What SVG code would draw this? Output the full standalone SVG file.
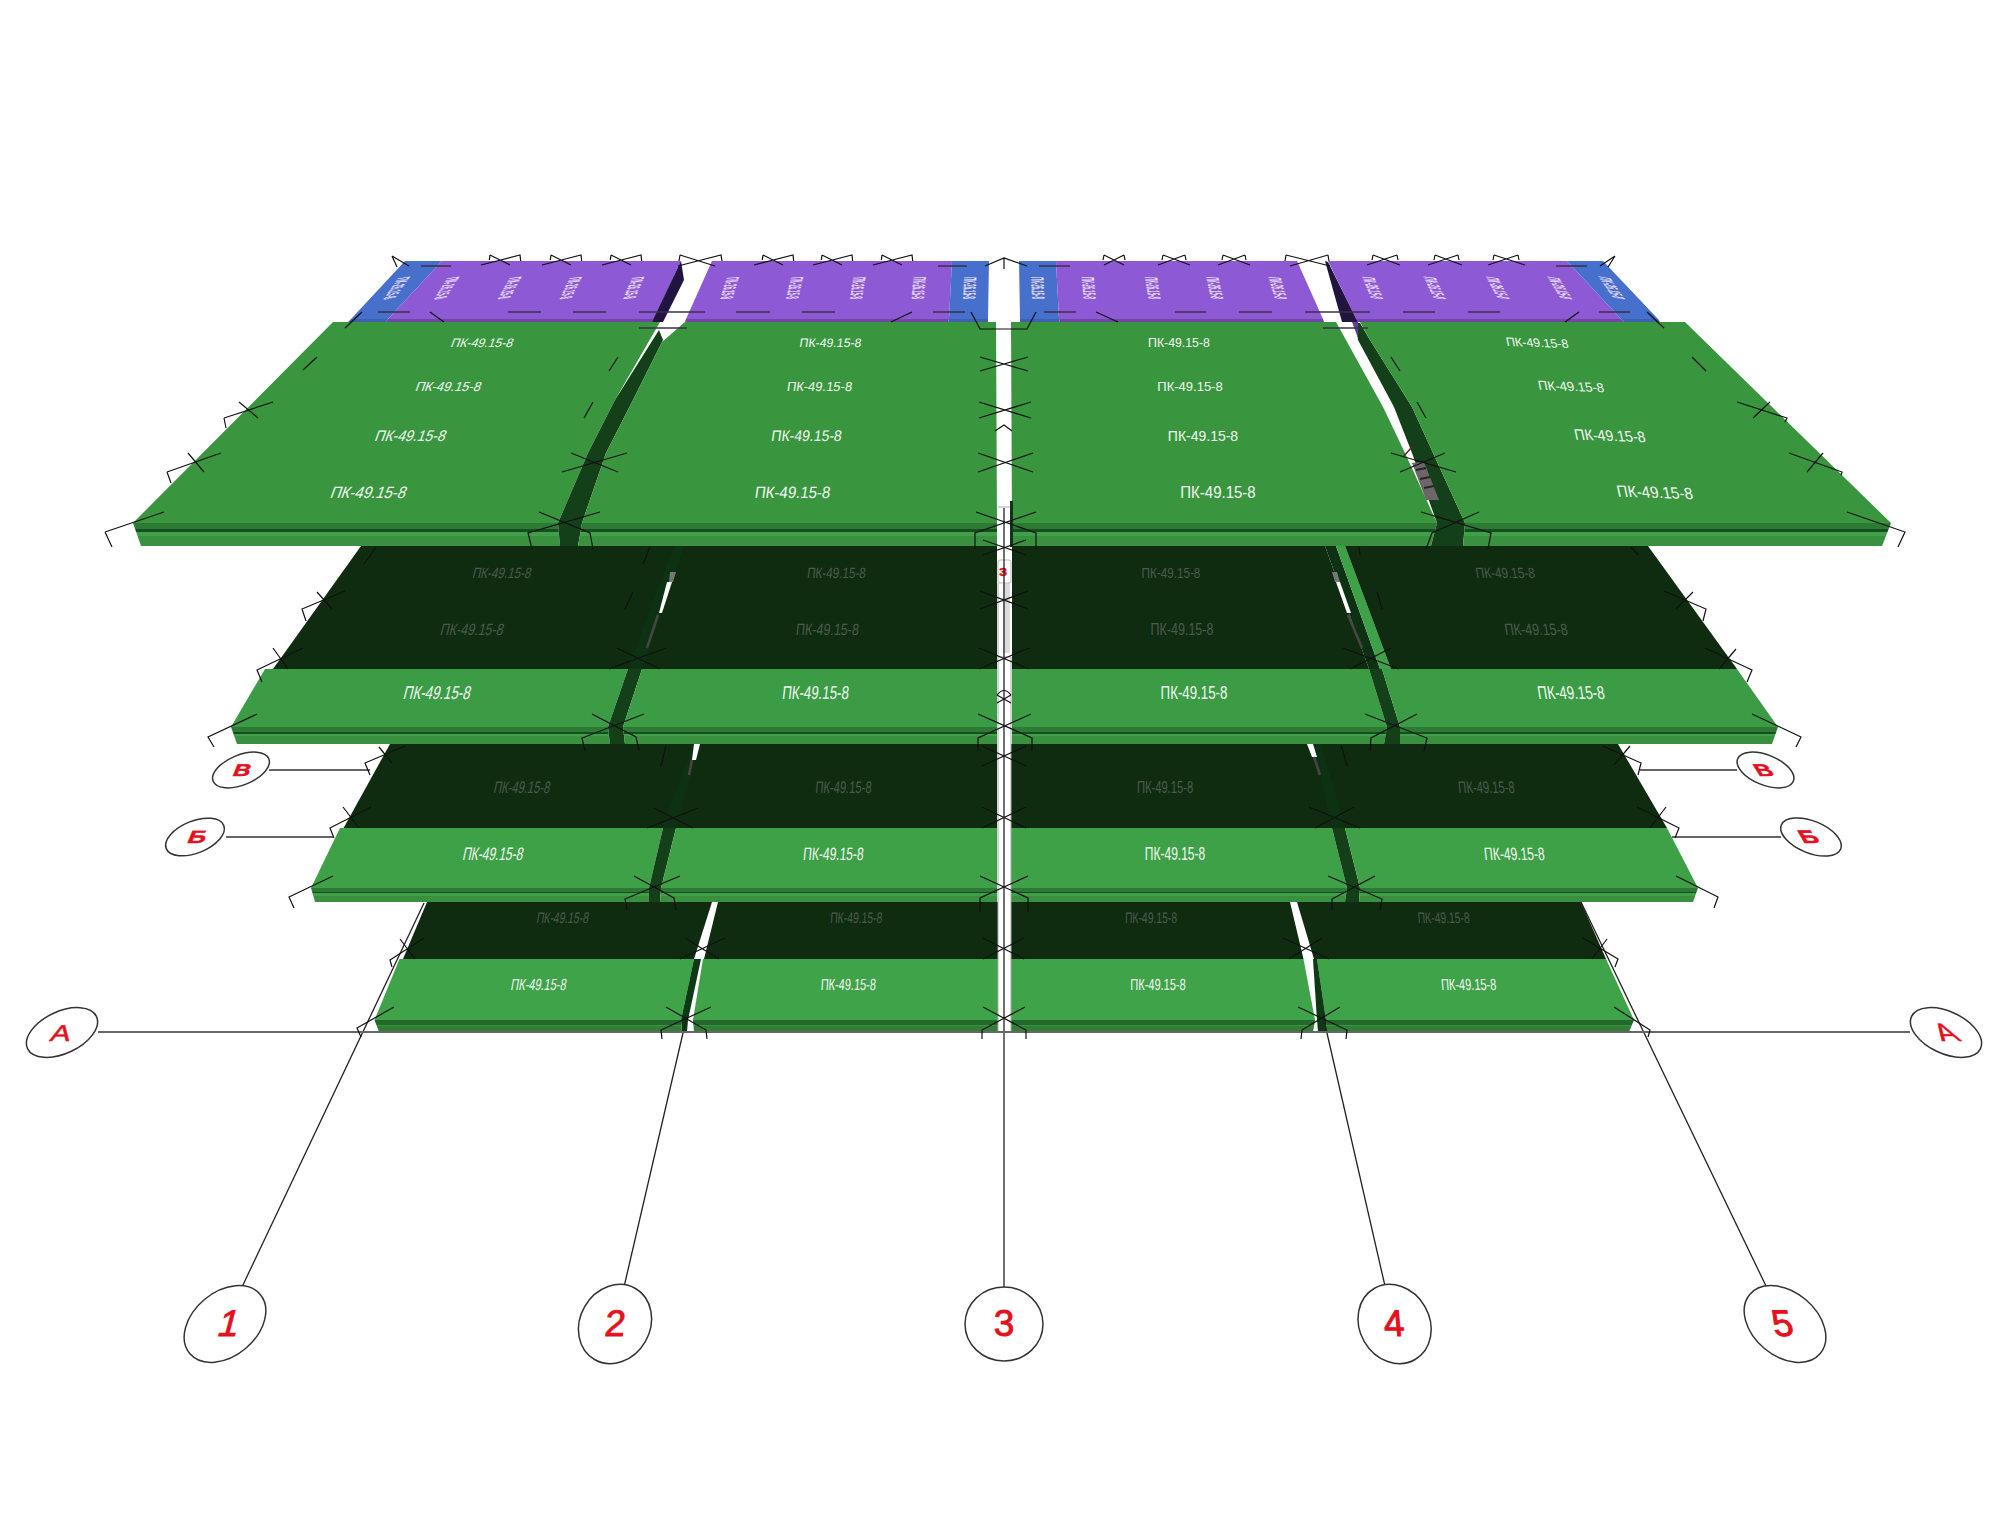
<svg xmlns="http://www.w3.org/2000/svg" width="2000" height="1531" viewBox="0 0 2000 1531">
<style>
text{font-family:"Liberation Sans",Arial,sans-serif;text-anchor:middle}
.w{fill:#f2f7f2}
.d{fill:#4b5a4d}
.v{fill:#e8dff8;font-size:10px;font-weight:bold}
.r{fill:#e60f1c;stroke:#e60f1c;stroke-width:.9}
.rs{fill:#e60f1c;stroke:#e60f1c;stroke-width:.5}
.pu{fill:#8e59d4}.pb{fill:#6f47a6}.bl{fill:#4670cc}.bb{fill:#3f60ad}
.t1{fill:#39963f}.t2{fill:#3b9c45}.t3{fill:#3ea148}.t4{fill:#3fa34a}
.dk{fill:#0f2c11}.st{fill:#133f19}.ds{fill:#0d3213}
.f{fill:url(#front)}.f4{fill:url(#front4)}
.tick{fill:none;stroke:#111;stroke-width:1.2}
.grid{fill:none;stroke:#222;stroke-width:1.3}
.gh{fill:none;stroke:#666;stroke-width:2}
.b{fill:#fff;stroke:#333;stroke-width:1.5}
.e{fill:none;stroke:#aaa;stroke-width:1}
</style>
<defs>
<linearGradient id="front" x1="0" y1="0" x2="0" y2="1">
<stop offset="0" stop-color="#2c7a33"/><stop offset=".27" stop-color="#2c7a33"/><stop offset=".27" stop-color="#14501e"/><stop offset=".39" stop-color="#14501e"/><stop offset=".39" stop-color="#419e49"/><stop offset=".55" stop-color="#419e49"/><stop offset=".55" stop-color="#39903f"/><stop offset="1" stop-color="#39903f"/>
</linearGradient>
<linearGradient id="front4" x1="0" y1="0" x2="0" y2="1">
<stop offset="0" stop-color="#24682c"/><stop offset=".4" stop-color="#24682c"/><stop offset=".4" stop-color="#3a9442"/><stop offset=".52" stop-color="#3a9442"/><stop offset=".52" stop-color="#2f7f36"/><stop offset="1" stop-color="#2f7f36"/>
</linearGradient>
</defs>
<rect width="2000" height="1531" fill="#fff"/>

<g id="tier-4">
<polygon class="dk" points="427,902 712,902 694,959 403,959"/>
<polygon class="dk" points="718,902 998,902 998,959 704,959"/>
<polygon class="dk" points="1011,902 1290,902 1303.5,959 1011,959"/>
<polygon class="dk" points="1297,902 1581,902 1606,959 1314,959"/>
<polygon class="t4" points="399.5,959 694,959 681,1020 374.5,1020"/>
<polygon class="t4" points="703,959 998,959 998,1020 693,1020"/>
<polygon class="t4" points="1011,959 1303.5,959 1315,1020 1011,1020"/>
<polygon class="t4" points="1317,959 1606,959 1634,1020 1326,1020"/>
<polygon fill="#0d3a14" points="694,959 701,959 688,1020 681,1020"/>
<polygon fill="#0d3a14" points="1313,959 1317,959 1326,1020 1317,1020"/>
<polygon fill="#0d3a14" points="681,1020 688,1020 687,1032 682,1032"/>
<polygon fill="#0d3a14" points="1317,1020 1326,1020 1326,1032 1318,1032"/>
<polygon class="f4" points="374.5,1020 681,1020 682,1032 379,1032"/>
<polygon class="f4" points="693,1020 998,1020 998,1032 694,1032"/>
<polygon class="f4" points="1011,1020 1315,1020 1313,1032 1011,1032"/>
<polygon class="f4" points="1326,1020 1634,1020 1629,1032 1326,1032"/>
<g class="d">
<text font-size="10.4" transform="translate(562,922.5) skewX(-10) scale(1,1.47)">ПК-49.15-8</text>
<text font-size="10.4" transform="translate(856,922.5) skewX(-4) scale(1,1.47)">ПК-49.15-8</text>
<text font-size="10.4" transform="translate(1151,922.5) skewX(-1) scale(1,1.47)">ПК-49.15-8</text>
<text font-size="10.4" transform="translate(1444,922.5) skewX(4) scale(1,1.47)">ПК-49.15-8</text>
</g>
<g class="w">
<text font-size="11" transform="translate(538,990) skewX(-10) scale(1,1.47)">ПК-49.15-8</text>
<text font-size="11" transform="translate(848,990) skewX(-4) scale(1,1.47)">ПК-49.15-8</text>
<text font-size="11" transform="translate(1158,990) skewX(-1) scale(1,1.47)">ПК-49.15-8</text>
<text font-size="11" transform="translate(1469,990) skewX(4) scale(1,1.47)">ПК-49.15-8</text>
</g>
</g>

<g id="tier-3">
<polygon class="dk" points="390,744 997,744 997,828 343.6,828"/>
<polygon class="dk" points="1011,744 1618,744 1667,828 1011,828"/>
<polygon class="ds" points="693,744 700,744 676,828 663,828"/>
<polygon class="ds" points="1313,744 1321,744 1345,828 1332,828"/>
<polygon fill="#fff" points="694,744 700,744 696,760 692,760"/>
<polygon fill="#fff" points="1307,744 1313,744 1317,757 1312,757"/>
<path d="M692,760 L689,775M1314,757 L1320,775" stroke="#4a4444" stroke-width="2.5" fill="none"/>
<polygon class="t3" points="340,828 663,828 649,888 311,888"/>
<polygon class="st" points="663,828 676,828 661,888 649,888"/>
<polygon class="t3" points="676,828 997,828 997,888 661,888"/>
<polygon class="t3" points="1011,828 1332,828 1347,888 1011,888"/>
<polygon class="st" points="1332,828 1345,828 1360,888 1347,888"/>
<polygon class="t3" points="1345,828 1667,828 1698,888 1360,888"/>
<polygon class="f" points="311,888 649,888 649,902 315,902"/>
<polygon class="st" points="649,888 661,888 660,902 649,902"/>
<polygon class="f" points="661,888 997,888 997,902 660,902"/>
<polygon class="f" points="1011,888 1347,888 1345,902 1011,902"/>
<polygon class="st" points="1347,888 1360,888 1359,902 1345,902"/>
<polygon class="f" points="1360,888 1698,888 1693,902 1359,902"/>
<g class="d">
<text font-size="11.2" transform="translate(521,793) skewX(-12) scale(1,1.5)">ПК-49.15-8</text>
<text font-size="11.2" transform="translate(843,793) skewX(-5) scale(1,1.5)">ПК-49.15-8</text>
<text font-size="11.2" transform="translate(1165,793) skewX(0) scale(1,1.5)">ПК-49.15-8</text>
<text font-size="11.2" transform="translate(1487,793) skewX(6) scale(1,1.5)">ПК-49.15-8</text>
</g>
<g class="w">
<text font-size="12" transform="translate(492,859.5) skewX(-12) scale(1,1.5)">ПК-49.15-8</text>
<text font-size="12" transform="translate(833,859.5) skewX(-5) scale(1,1.5)">ПК-49.15-8</text>
<text font-size="12" transform="translate(1175,859.5) skewX(0) scale(1,1.5)">ПК-49.15-8</text>
<text font-size="12" transform="translate(1515,859.5) skewX(6) scale(1,1.5)">ПК-49.15-8</text>
</g>
</g>

<g id="tier-2">
<polygon class="dk" points="361,546 997,546 997,669 273,669"/>
<polygon class="dk" points="1012,546 1325,546 1369,669 1012,669"/>
<polygon class="ds" points="674,546 684,546 642,669 628,669"/>
<polygon class="ds" points="1325,546 1336,546 1380,669 1369,669"/>
<polygon class="t3" points="1336,546 1345,546 1391,669 1380,669"/>
<polygon class="dk" points="1345,546 1648,546 1737,669 1391,669"/>
<polygon fill="#fff" points="667,582 672,582 662,613 659,613"/>
<polygon fill="#fff" points="1336,582 1340,582 1351,613 1347,613"/>
<polygon fill="#777" points="670,572 676,572 673,582 669,582"/>
<polygon fill="#777" points="1332,572 1337,572 1340,582 1335,582"/>
<path d="M658,615 L647,648M1348,615 L1362,648" stroke="#4a4444" stroke-width="2.5" fill="none"/>
<polygon class="t2" points="265,669 628,669 608,727 231,727"/>
<polygon class="st" points="628,669 642,669 623,727 608,727"/>
<polygon class="t2" points="642,669 997,669 997,727 623,727"/>
<polygon class="t2" points="1012,669 1369,669 1387,727 1012,727"/>
<polygon class="st" points="1369,669 1382,669 1400,727 1387,727"/>
<polygon class="t2" points="1382,669 1737,669 1778,727 1400,727"/>
<polygon class="f" points="231,727 608,727 610,744 237,744"/>
<polygon class="st" points="608,727 623,727 625,744 610,744"/>
<polygon class="f" points="623,727 997,727 997,744 625,744"/>
<polygon class="f" points="1012,727 1387,727 1384,744 1012,744"/>
<polygon class="st" points="1387,727 1400,727 1400,744 1384,744"/>
<polygon class="f" points="1400,727 1778,727 1772,744 1400,744"/>
<g class="d">
<text font-size="11.7" transform="translate(501,578.3) skewX(-14) scale(1,1.27)">ПК-49.15-8</text>
<text font-size="11.7" transform="translate(836,578.3) skewX(-6) scale(1,1.27)">ПК-49.15-8</text>
<text font-size="11.7" transform="translate(1171,578.3) skewX(0) scale(1,1.27)">ПК-49.15-8</text>
<text font-size="11.7" transform="translate(1506,578.3) skewX(9) scale(1,1.27)">ПК-49.15-8</text>
<text font-size="12.5" transform="translate(471,635) skewX(-14) scale(1,1.3)">ПК-49.15-8</text>
<text font-size="12.5" transform="translate(827,635) skewX(-6) scale(1,1.3)">ПК-49.15-8</text>
<text font-size="12.5" transform="translate(1182,635) skewX(0) scale(1,1.3)">ПК-49.15-8</text>
<text font-size="12.5" transform="translate(1537,635) skewX(9) scale(1,1.3)">ПК-49.15-8</text>
</g>
<g class="w">
<text font-size="13.3" transform="translate(436,698.7) skewX(-14) scale(1,1.4)">ПК-49.15-8</text>
<text font-size="13.3" transform="translate(815,698.7) skewX(-6) scale(1,1.4)">ПК-49.15-8</text>
<text font-size="13.3" transform="translate(1194,698.7) skewX(0) scale(1,1.4)">ПК-49.15-8</text>
<text font-size="13.3" transform="translate(1572,698.7) skewX(9) scale(1,1.4)">ПК-49.15-8</text>
</g>
</g>

<g id="tier-1">
<polygon class="t1" points="333,322 660,322 615,400 588,453 558,523 133,523"/>
<polygon class="st" points="659,330 663,340 633,400 606,453 582,523 558,523 588,453 615,400"/>
<polygon class="t1" points="685,322 996,322 997,523 582,523 606,453 633,400 662,342"/>
<polygon class="t1" points="1011,322 1336,322 1383,407 1405,453 1437,523 1012,523"/>
<polygon class="st" points="1356,323 1360,323 1370,340 1412,407 1433,453 1465,523 1437,523 1412,453 1394,407 1358,340"/>
<polygon class="t1" points="1360,322 1685,322 1891,523 1465,523 1433,453 1412,407 1370,340"/>
<polygon fill="#5f3fa0" points="1352,322 1358,322 1358,338"/>
<polygon fill="#6c6668" points="1412,463 1424,462 1439,500 1426,500"/>
<path d="M1416,470 L1426,468 M1420,479 L1430,477 M1424,488 L1434,486" stroke="#2b2426" stroke-width="2" fill="none"/>
<path d="M1403,457 L1412,447" stroke="#5a2a2a" stroke-width="1.6" fill="none"/>
<polygon class="f" points="133,523 558,523 560,546 141,546"/>
<polygon class="st" points="558,523 582,523 578,546 560,546"/>
<polygon class="f" points="582,523 997,523 997,546 578,546"/>
<polygon class="f" points="1012,523 1437,523 1431,546 1012,546"/>
<polygon class="st" points="1437,523 1465,523 1463,546 1431,546"/>
<polygon class="f" points="1465,523 1891,523 1882,546 1463,546"/>
<g class="w">
<text font-size="12.3" transform="translate(481,347) skewX(-20)">ПК-49.15-8</text>
<text font-size="12.3" transform="translate(830,347) skewX(-8)">ПК-49.15-8</text>
<text font-size="12.3" transform="translate(1179,347) skewX(0)">ПК-49.15-8</text>
<text font-size="12.3" transform="translate(1538,347) skewX(12) skewY(2)">ПК-49.15-8</text>
<text font-size="13" transform="translate(447,391) skewX(-20)">ПК-49.15-8</text>
<text font-size="13" transform="translate(819,391) skewX(-8)">ПК-49.15-8</text>
<text font-size="13" transform="translate(1190,391) skewX(0)">ПК-49.15-8</text>
<text font-size="13" transform="translate(1572,391) skewX(12) skewY(2)">ПК-49.15-8</text>
<text font-size="14" transform="translate(409,441) skewX(-20) scale(1,1.1)">ПК-49.15-8</text>
<text font-size="14" transform="translate(806,441) skewX(-8) scale(1,1.1)">ПК-49.15-8</text>
<text font-size="14" transform="translate(1203,441) skewX(0) scale(1,1.1)">ПК-49.15-8</text>
<text font-size="14" transform="translate(1611,441) skewX(12) skewY(2) scale(1,1.1)">ПК-49.15-8</text>
<text font-size="15" transform="translate(367,498) skewX(-20) scale(1,1.1)">ПК-49.15-8</text>
<text font-size="15" transform="translate(792,498) skewX(-8) scale(1,1.1)">ПК-49.15-8</text>
<text font-size="15" transform="translate(1218,498) skewX(0) scale(1,1.1)">ПК-49.15-8</text>
<text font-size="15" transform="translate(1656,498) skewX(12) skewY(2) scale(1,1.1)">ПК-49.15-8</text>
</g>
</g>

<g id="roof">
<polygon class="bl" points="405,261 442,261 388,319 351,319"/>
<polygon class="bb" points="351,319 388,319 386,322 348,322"/>
<polygon class="pu" points="442,261 681,261 654,319 388,319"/>
<polygon class="pb" points="388,319 654,319 652,322 386,322"/>
<polygon fill="#21143f" points="681,261 684,280 663,322 652,322"/>
<polygon class="pu" points="712,261 952,261 949,319 686,319"/>
<polygon class="pb" points="686,319 949,319 948,322 685,322"/>
<polygon class="bl" points="952,261 989,261 988,319 949,319"/>
<polygon class="bb" points="949,319 988,319 988,322 948,322"/>
<polygon class="bl" points="1019,261 1056,261 1059,319 1020,319"/>
<polygon class="bb" points="1020,319 1059,319 1060,322 1020,322"/>
<polygon class="pu" points="1056,261 1297,261 1323,319 1059,319"/>
<polygon class="pb" points="1059,319 1323,319 1324,322 1060,322"/>
<polygon fill="#21143f" points="1325,261 1328,262 1358,322 1342,322"/>
<polygon class="pu" points="1328,261 1567,261 1621,319 1356,319"/>
<polygon class="pb" points="1356,319 1621,319 1624,322 1358,322"/>
<polygon class="bl" points="1567,261 1603,261 1658,319 1621,319"/>
<polygon class="bb" points="1621,319 1658,319 1660,322 1624,322"/>
<g class="v">
<text y="3.6" transform="matrix(-.30 .43 -1.8 .31 397 288)">ПК-26.15-8</text>
<text y="3.6" transform="matrix(-.27 .43 -1.8 .28 447 288)">ПК-26.15-8</text>
<text y="3.6" transform="matrix(-.24 .43 -1.8 .25 510 288)">ПК-26.15-8</text>
<text y="3.6" transform="matrix(-.21 .43 -1.8 .22 571 288)">ПК-26.15-8</text>
<text y="3.6" transform="matrix(-.18 .43 -1.8 .18 634 288)">ПК-26.15-8</text>
<text y="3.6" transform="matrix(-.13 .43 -1.8 .14 730 288)">ПК-26.15-8</text>
<text y="3.6" transform="matrix(-.10 .43 -1.8 .1 795 288)">ПК-26.15-8</text>
<text y="3.6" transform="matrix(-.07 .43 -1.8 .07 858 288)">ПК-26.15-8</text>
<text y="3.6" transform="matrix(-.04 .43 -1.8 .04 919 288)">ПК-26.15-8</text>
<text y="3.6" transform="matrix(-.02 .43 -1.8 .02 970 288)">ПК-26.15-8</text>
<text y="3.6" transform="matrix(.02 .43 -1.8 -.02 1038 288)">ПК-26.15-8</text>
<text y="3.6" transform="matrix(.04 .43 -1.8 -.04 1089 288)">ПК-26.15-8</text>
<text y="3.6" transform="matrix(.07 .43 -1.8 -.07 1153 288)">ПК-26.15-8</text>
<text y="3.6" transform="matrix(.10 .43 -1.8 -.1 1215 288)">ПК-26.15-8</text>
<text y="3.6" transform="matrix(.13 .43 -1.8 -.14 1278 288)">ПК-26.15-8</text>
<text y="3.6" transform="matrix(.18 .43 -1.8 -.18 1373 288)">ПК-26.15-8</text>
<text y="3.6" transform="matrix(.21 .43 -1.8 -.22 1435 288)">ПК-26.15-8</text>
<text y="3.6" transform="matrix(.24 .43 -1.8 -.25 1498 288)">ПК-26.15-8</text>
<text y="3.6" transform="matrix(.27 .43 -1.8 -.28 1560 288)">ПК-26.15-8</text>
<text y="3.6" transform="matrix(.30 .43 -1.8 -.31 1612 288)">ПК-26.15-8</text>
</g>
</g>

<g id="center-strip">
<rect x="1003" y="583" width="7" height="70" fill="#ddd"/>
<rect x="1010" y="501" width="3" height="46" fill="#12331a"/>
<path class="e" d="M998,507H1010M998,583V1032M1011,657V1032M998,657H1011"/>
<rect x="998" y="560" width="13" height="23" rx="2" fill="#fff" stroke="#bbb"/>
<text class="rs" font-size="11" font-weight="bold" transform="translate(1003,576) scale(1.25,1)">3</text>
</g>

<g id="connectors">
<g id="grid-lines">
<path class="grid" d="M242,1287 L424,903"/>
<path class="grid" d="M624,1287 L686,1020"/>
<path class="grid" d="M1004,1287 V508"/>
<path class="grid" d="M1385,1286 L1324,1020"/>
<path class="grid" d="M1766,1286 L1581,902"/>
<path class="gh" d="M98,1032 H1910"/>
<path class="gh" d="M269,770 H370"/>
<path class="gh" d="M226,837 H333"/>
<path class="gh" d="M1640,770 H1737"/>
<path class="gh" d="M1672,837 H1781"/>
</g>
<g id="ticks-roof">
<path class="tick" d="M392,256 L409,266 M392,256 L397,267"/>
<path class="tick" d="M490,255 L510,265 M490,255 L489.3,260 M481,265 L520,255 L520.7,261"/>
<path class="tick" d="M551,255 L571,265 M551,255 L550.3,260 M542,265 L581,255 L581.7,261"/>
<path class="tick" d="M611,255 L631,265 M611,255 L610.3,260 M602,265 L641,255 L641.7,261"/>
<path class="tick" d="M680,255 L715,266 M680,255 L679,261 M678,266 L721,255 L722,261"/>
<path class="tick" d="M763,255 L783,265 M763,255 L762.3,260 M754,265 L793,255 L793.7,261"/>
<path class="tick" d="M822,255 L842,265 M822,255 L821.3,260 M813,265 L852,255 L852.7,261"/>
<path class="tick" d="M882,255 L902,265 M882,255 L881.3,260 M873,265 L912,255 L912.7,261"/>
<path class="tick" d="M985,266 L1004,258 L1027,266 M1004,258 V269"/>
<path class="tick" d="M1104,255 L1124,265 M1104,265 L1124,255 M1104,255 L1103,260 M1124,255 L1125,260"/>
<path class="tick" d="M1163,255 L1190,265 M1158,265 L1185,255 M1163,255 L1162,260 M1185,255 L1186,260"/>
<path class="tick" d="M1223,255 L1250,265 M1218,265 L1245,255 M1223,255 L1222,260 M1245,255 L1246,260"/>
<path class="tick" d="M1286,255 L1330,266 M1290,266 L1328,255 M1286,255 L1285,261 M1328,255 L1329,261"/>
<path class="tick" d="M1373,255 L1400,265 M1367,265 L1397,255 M1373,255 L1372,260 M1397,255 L1398,260"/>
<path class="tick" d="M1435,255 L1462,265 M1428,265 L1458,255 M1435,255 L1434,260 M1458,255 L1459,260"/>
<path class="tick" d="M1494,255 L1525,265 M1488,265 L1518,255 M1494,255 L1493,260 M1518,255 L1519,260"/>
<path class="tick" d="M1615,256 L1600,266 M1615,256 L1608,267"/>
<path d="M421,266H451M938,266H967M1039,266H1070M1556,266H1587M378,312H410M508,312H541M573,312H606M639,312H705M736,312H770M802,312H835M933,312H965M1044,312H1076M1175,312H1206M1239,312H1272M1305,312H1370M1403,312H1435M1468,312H1500M1599,312H1630M639,328H687M1323,328H1368" stroke="#3a3048" stroke-width="1.6" fill="none"/>
<path class="tick" d="M971,312 L980,329 H1027 L1036,312 M345,328 L362,312 M430,312 L444,322 M1096,312 L1118,322 M891,322 L912,312 M1565,322 L1579,312 M1647,312 L1664,328"/>
</g>
<g id="ticks-tier-1">
<path class="tick" d="M303,370 L317,357 M609,371 L618,357 M584,418 L593,402"/>
<path class="tick" d="M224,418 L273,402 M224,418 L226,428 M239,402 L258,418"/>
<path class="tick" d="M167,472 L221,453 M167,472 L171,483 M188,453 L204,472"/>
<path class="tick" d="M105,532 L164,512 M105,532 L112,547"/>
<path class="tick" d="M571,453 L618,472 M562,472 L627,453"/>
<path class="tick" d="M539,512 L590,533 L593,549 M532,549 L528,533 L600,512"/>
<path class="tick" d="M980,371 L1028,357 M980,357 L1028,371 M979,418 L1031,402 M979,402 L1031,418 M978,472 L1033,453 M978,453 L1033,472 M995,431 L1004,425 L1012,431"/>
<path class="tick" d="M976,512 L1036,533 V549 M975,549 V533 L1036,512"/>
<path class="tick" d="M1391,357 L1400,371 M1417,402 L1426,418"/>
<path class="tick" d="M1391,453 L1456,472 M1400,472 L1445,453"/>
<path class="tick" d="M1421,512 L1491,533 L1488,549 M1426,549 L1432,533 L1479,512"/>
<path class="tick" d="M1692,357 L1706,371"/>
<path class="tick" d="M1737,402 L1787,418 L1785,422 M1770,402 L1753,418"/>
<path class="tick" d="M1789,453 L1842,472 L1841,475 M1823,453 L1807,472"/>
<path class="tick" d="M1847,512 L1905,532 L1898,547"/>
</g>
<g id="ticks-tier-2">
<path class="tick" d="M376,547 L364,564 M650,547 L643,564 M633,592 L625,609 M1359,547 L1360,555 M1377,592 L1382,609 M1631,547 L1638,555"/>
<path class="tick" d="M345,591 L302,609 L306,621 M317,592 L332,609"/>
<path class="tick" d="M303,648 L257,670 L262,682 M273,648 L288,669"/>
<path class="tick" d="M257,714 L208,737 L214,747"/>
<path class="tick" d="M617,648 L660,669 M609,669 L666,648"/>
<path class="tick" d="M592,714 L636,737 L639,750 M585,751 L582,738 L644,714"/>
<path class="tick" d="M983,555 L1026,540 M983,540 L1026,555 M980,609 L1028,591 M980,591 L1028,609 M979,669 L1029,648 M979,648 L1029,669"/>
<path class="tick" d="M978,714 L1032,738 V751 M978,751 V738 L1031,714 M997,695 Q1004,686 1011,695 M997,703 L1011,695 M997,695 L1011,703"/>
<path class="tick" d="M1343,648 L1399,669 M1350,669 L1391,648"/>
<path class="tick" d="M1365,714 L1427,738 L1424,751 M1370,751 L1371,738 L1417,714"/>
<path class="tick" d="M1664,591 L1706,609 L1703,621 M1693,592 L1676,609"/>
<path class="tick" d="M1705,648 L1752,670 L1747,682 M1736,649 L1719,669"/>
<path class="tick" d="M1752,714 L1801,737 L1796,747"/>
</g>
<g id="ticks-tier-3">
<path class="tick" d="M666,745 L661,767 M1341,745 L1347,766"/>
<path class="tick" d="M405,746 L365,763 L370,775 M379,747 L392,763"/>
<path class="tick" d="M371,807 L330,828 L334,838 M343,807 L359,828"/>
<path class="tick" d="M333,876 L289,897 L294,908"/>
<path class="tick" d="M654,808 L693,828 M647,828 L698,808"/>
<path class="tick" d="M634,876 L674,898 L676,910 M627,910 L625,899 L680,876"/>
<path class="tick" d="M982,746 L1026,766 M982,766 L1026,746 M982,828 L1026,807 M982,807 L1026,828"/>
<path class="tick" d="M980,876 L1028,898 V912 M980,912 V898 L1028,876"/>
<path class="tick" d="M1309,807 L1360,828 M1315,828 L1354,807"/>
<path class="tick" d="M1328,876 L1382,899 L1380,910 M1332,910 V899 L1375,876"/>
<path class="tick" d="M1603,746 L1641,763 L1638,775 M1630,746 L1614,765"/>
<path class="tick" d="M1637,807 L1679,828 L1675,838 M1666,807 L1650,828"/>
<path class="tick" d="M1676,876 L1718,897 L1714,908"/>
</g>
<g id="ticks-tier-4">
<path class="tick" d="M424,938 L390,960 L392,967 M400,939 L415,959"/>
<path class="tick" d="M394,1007 L357,1028 L361,1037"/>
<path class="tick" d="M685,938 L719,959 M680,959 L725,938"/>
<path class="tick" d="M666,1007 L706,1030 L707,1039 M662,1039 L661,1030 L711,1007"/>
<path class="tick" d="M983,938 L1024,959 M983,959 L1024,938"/>
<path class="tick" d="M983,1007 L1026,1030 V1039 M982,1039 V1030 L1025,1007"/>
<path class="tick" d="M1283,938 L1329,959 M1289,959 L1322,938"/>
<path class="tick" d="M1298,1007 L1347,1030 L1346,1039 M1301,1039 L1302,1030 L1340,1007"/>
<path class="tick" d="M1583,938 L1618,959 L1615,967 M1607,939 L1592,959"/>
<path class="tick" d="M1614,1007 L1650,1030 L1648,1037"/>
</g>
</g>

<g id="axis-A-left"><ellipse class="b" cx="62" cy="1032.5" rx="38" ry="21" transform="rotate(-25 62 1032.5)"/><text class="rs" font-size="23" transform="translate(59,1041) skewX(-15) scale(1.3,1)">А</text></g>
<g id="axis-A-right"><ellipse class="b" cx="1946" cy="1032.5" rx="38" ry="21" transform="rotate(25 1946 1032.5)"/><text class="rs" font-size="25" transform="translate(1952,1041) skewX(36) scale(1.2,1)">А</text></g>
<g id="axis-B-left"><ellipse class="b" cx="241" cy="770" rx="30" ry="15" transform="rotate(-22 241 770)"/><text class="rs" font-weight="bold" font-size="17" transform="translate(240,776) skewX(-22) scale(1.4,1)">В</text></g>
<g id="axis-B-right"><ellipse class="b" cx="1765.5" cy="770" rx="30" ry="15" transform="rotate(22 1765.5 770)"/><text class="rs" font-weight="bold" font-size="17" transform="translate(1767,776) skewX(32) scale(1.4,1)">В</text></g>
<g id="axis-V-left"><ellipse class="b" cx="195" cy="837" rx="31" ry="16" transform="rotate(-22 195 837)"/><text class="rs" font-weight="bold" font-size="18" transform="translate(195,843) skewX(-22) scale(1.4,1)">Б</text></g>
<g id="axis-V-right"><ellipse class="b" cx="1811" cy="837" rx="32" ry="16" transform="rotate(22 1811 837)"/><text class="rs" font-weight="bold" font-size="18" transform="translate(1812,843) skewX(30) scale(1.4,1)">Б</text></g>
<g id="axis-1"><ellipse class="b" cx="225" cy="1324" rx="46" ry="32" transform="rotate(-40 225 1324)"/><text class="r" font-size="37" transform="translate(226,1336) skewX(-15)">1</text></g>
<g id="axis-2"><ellipse class="b" cx="615" cy="1324" rx="41" ry="35" transform="rotate(-60 615 1324)"/><text class="r" font-size="37" transform="translate(614,1336) skewX(-6)">2</text></g>
<g id="axis-3"><ellipse class="b" cx="1004" cy="1324" rx="39" ry="37"/><text class="r" font-size="37" transform="translate(1004,1336)">3</text></g>
<g id="axis-4"><ellipse class="b" cx="1394.6" cy="1324" rx="41" ry="35" transform="rotate(60 1394.6 1324)"/><text class="r" font-size="37" transform="translate(1395,1336) skewX(5)">4</text></g>
<g id="axis-5"><ellipse class="b" cx="1785" cy="1324" rx="46" ry="32" transform="rotate(40 1785 1324)"/><text class="r" font-size="37" transform="translate(1785,1336) skewX(12)">5</text></g>
</svg>
